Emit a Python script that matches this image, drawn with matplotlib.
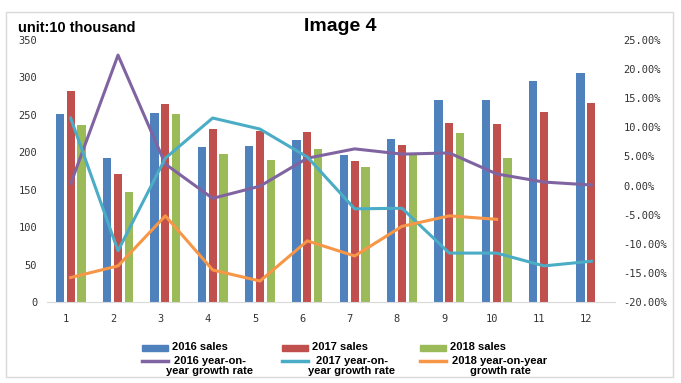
import numpy as np
import matplotlib
matplotlib.use("Agg")
import matplotlib.pyplot as plt
import matplotlib.transforms as mtransforms
from matplotlib.patches import Rectangle
from matplotlib.ticker import FuncFormatter

# data (sales in 10 thousand, growth in %)
months = list(range(1, 13))
sales_2016 = [251, 192, 252, 207, 208, 216, 196, 218, 270, 270, 295, 306]
sales_2017 = [282, 171, 264, 231, 228, 227, 188, 210, 239, 238, 254, 266]
sales_2018 = [236, 147, 251, 198, 190, 204, 180, 196, 226, 192]
growth_2016 = [0.3, 22.4, 3.7, -2.2, -0.1, 4.7, 6.3, 5.4, 5.6, 2.0, 0.6, 0.1]
growth_2017 = [11.6, -11.2, 4.7, 11.6, 9.7, 4.9, -4.0, -3.9, -11.6, -11.6, -13.8, -13.0]
growth_2018 = [-15.8, -13.8, -5.2, -14.5, -16.4, -9.5, -12.1, -7.0, -5.2, -5.8]

blue, red, green = "#4F81BD", "#C0504D", "#9BBB59"
purple, cyan, orange = "#8064A2", "#4BACC6", "#F79646"

plt.rcParams['font.family'] = ['Liberation Sans', 'DejaVu Sans']
W, H = 681, 383
fig = plt.figure(figsize=(W / 100, H / 100), dpi=100)

ax = fig.add_axes([47 / W, 1 - 302 / H, (615 - 47) / W, (302 - 40) / H])
x = np.arange(len(months))
bw, step = 0.175, 0.228
ax.bar(x[:len(sales_2016)] - step, sales_2016, bw, color=blue)
ax.bar(x[:len(sales_2017)], sales_2017, bw, color=red)
ax.bar(x[:len(sales_2018)] + step, sales_2018, bw, color=green)
ax.set_xlim(-0.5, len(months) - 0.5)
ax.set_ylim(0, 350)
ax.set_yticks(range(0, 351, 50))
ax.set_xticks(x)
ax.set_xticklabels([str(m) for m in months])
for s in ["top", "left", "right"]:
    ax.spines[s].set_visible(False)
ax.spines["bottom"].set_color("#d9d9d9")
ax.tick_params(length=0, labelsize=7.5, colors="#333333")
ax.tick_params(axis="y", pad=7)
ax.tick_params(axis="x", pad=9)
shift = mtransforms.ScaledTranslation(-5 / 100, 0, fig.dpi_scale_trans)
for lab in ax.get_xticklabels():
    lab.set_transform(lab.get_transform() + shift)
for lab in ax.get_xticklabels() + ax.get_yticklabels():
    lab.set_family("DejaVu Sans Mono")

ax2 = ax.twinx()
ax2.plot(x[:len(growth_2016)], growth_2016, color=purple, lw=2.2)
ax2.plot(x[:len(growth_2017)], growth_2017, color=cyan, lw=2.2)
ax2.plot(x[:len(growth_2018)], growth_2018, color=orange, lw=2.2)
ax2.set_ylim(-20, 25)
ax2.set_yticks(range(-20, 26, 5))
ax2.yaxis.set_major_formatter(FuncFormatter(lambda v, p: f"{v:.2f}%"))
for s in ["top", "left", "right", "bottom"]:
    ax2.spines[s].set_visible(False)
ax2.tick_params(length=0, labelsize=7.5, colors="#333333", pad=6)
for lab in ax2.get_yticklabels():
    lab.set_family("DejaVu Sans Mono")

# overlay in pixel coordinates for frame, titles and legend
ov = fig.add_axes([0, 0, 1, 1], zorder=-1)
ov.set_xlim(0, W)
ov.set_ylim(H, 0)
ov.axis("off")
ov.add_patch(Rectangle((6, 12), 667, 365, fill=False, ec="#d9d9d9", lw=1))
ov.text(340, 31, "Image 4", ha="center", va="baseline", fontsize=14, fontweight="bold")
ov.text(18, 32, "unit:10 thousand", ha="left", va="baseline", fontsize=10.5, fontweight="bold")

bar_items = [(142, blue, "2016 sales"), (282, red, "2017 sales"), (420, green, "2018 sales")]
for px, c, lab in bar_items:
    ov.add_patch(Rectangle((px, 345), 26, 6, color=c))
    ov.text(px + 30, 347, lab, ha="left", va="center", fontsize=8, fontweight="bold")

line_items = [(142, purple, "2016 year-on-\nyear growth rate", 210),
              (282, cyan, "2017 year-on-\nyear growth rate", 352),
              (420, orange, "2018 year-on-year\ngrowth rate", 500)]
for px, c, lab, tx in line_items:
    ov.plot([px, px + 26], [361, 361], color=c, lw=2.5)
    ov.text(tx, 366, lab, ha="center", va="center", multialignment="center",
            fontsize=8, fontweight="bold", linespacing=1.05)

fig.savefig("out.png", dpi=100)
